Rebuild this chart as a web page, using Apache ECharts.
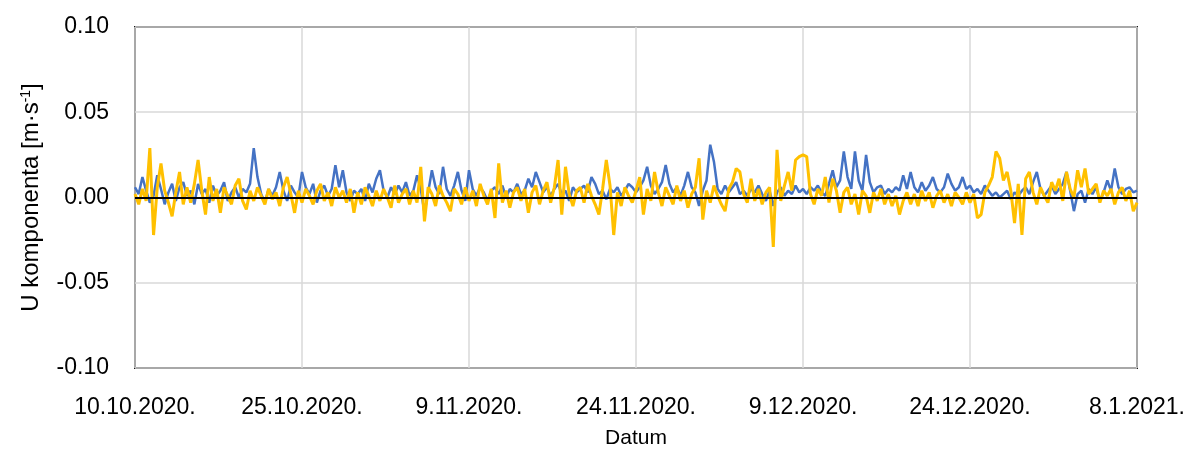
<!DOCTYPE html>
<html>

<head>
	<meta charset="UTF-8">
	<title></title>
	<style>
		body {
			margin: 0;
			background: #fff;
		}
		#chart {
			width: 1197px;
			height: 454px;
		}
	</style>
	<script src="https://cdn.jsdelivr.net/npm/echarts@6/dist/echarts.min.js"></script>
</head>

<body>
	<div id="chart"></div>
	<script>
		// tick labels on the date axis, one every 15 days
		var dateLabels = ['10.10.2020.', '25.10.2020.', '9.11.2020.', '24.11.2020.', '9.12.2020.', '24.12.2020.', '8.1.2021.'];
		// samples every 8 hours from 10.10.2020.
		var stepDays = 1 / 3;

		var blueValues = [
			0.006, 0.002, 0.012, 0.004, -0.003, 0.001, 0.013, 0.005, -0.004, 0.003, 0.008, -0.002, 0.006, 0.009, 0.001,
			0.004, -0.004, 0.008, 0.002, 0.005, -0.003, 0.007, 0.001, 0.004, 0.009, -0.002, 0.003, 0.006, 0.000, 0.005,
			0.003, 0.008, 0.029, 0.012, 0.002, -0.003, 0.005, 0.001, 0.006, 0.015, 0.004, -0.002, 0.007, 0.003, 0.000,
			0.015, 0.006, 0.002, 0.008, -0.003, 0.004, 0.007, 0.001, 0.005, 0.019, 0.006, 0.016, 0.003, -0.002, 0.004,
			0.002, 0.005, -0.002, 0.008, 0.003, 0.011, 0.016, 0.004, 0.000, 0.006, 0.002, 0.007, 0.003, 0.009, 0.001,
			0.004, 0.013, 0.005, -0.009, 0.003, 0.016, 0.006, 0.002, 0.018, 0.005, 0.001, 0.007, 0.015, 0.004, -0.002,
			0.016, 0.005, 0.001, 0.006, 0.003, -0.002, 0.004, 0.006, 0.002, 0.007, 0.000, 0.005, 0.003, 0.008, 0.002,
			0.004, 0.011, 0.006, 0.015, 0.009, 0.003, 0.006, 0.001, 0.005, 0.008, 0.002, 0.004, -0.002, 0.006, 0.003,
			0.005, 0.007, 0.003, 0.012, 0.008, 0.002, 0.004, -0.001, 0.005, 0.003, 0.006, 0.001, 0.004, 0.008, 0.006,
			0.003, 0.006, 0.010, 0.018, 0.007, 0.002, 0.005, 0.009, 0.019, 0.008, 0.003, 0.006, 0.001, 0.007, 0.015,
			0.006, 0.003, -0.005, 0.004, 0.010, 0.031, 0.021, 0.005, 0.002, 0.007, 0.003, 0.006, 0.009, 0.002, 0.004,
			0.001, 0.005, 0.003, 0.007, 0.002, -0.002, 0.004, -0.005, 0.003, 0.006, 0.001, 0.004, 0.002, 0.007, 0.003,
			0.005, 0.002, 0.006, 0.004, 0.007, 0.003, 0.001, 0.008, 0.016, 0.006, 0.010, 0.027, 0.012, 0.005, 0.027,
			0.010, 0.004, 0.025, 0.009, 0.003, 0.006, 0.007, 0.002, 0.005, 0.003, 0.006, 0.004, 0.013, 0.005, 0.015,
			0.006, 0.003, 0.009, 0.004, 0.007, 0.012, 0.005, 0.003, 0.006, 0.014, 0.008, 0.004, 0.006, 0.012, 0.005,
			0.007, 0.003, 0.005, 0.002, 0.007, 0.004, 0.001, 0.003, 0.000, 0.002, 0.004, -0.001, 0.003, 0.001, 0.004,
			0.006, 0.002, 0.009, 0.015, 0.005, 0.001, 0.004, 0.007, 0.002, 0.005, 0.008, 0.015, 0.004, -0.008, 0.002,
			0.004, -0.003, 0.005, 0.002, 0.006, -0.002, 0.003, 0.010, 0.004, 0.017, 0.006, 0.002, 0.005, 0.006, 0.003,
			0.004
		];

		var yellowValues = [
			0.002, -0.004, 0.005, -0.002, 0.029, -0.022, 0.006, 0.020, 0.004, -0.003, -0.011, 0.003, 0.015, -0.004, 0.006,
			-0.003, 0.008, 0.022, 0.004, -0.010, 0.012, -0.002, 0.005, -0.009, 0.006, 0.001, -0.004, 0.007, 0.011, -0.002,
			-0.007, 0.004, -0.002, 0.006, 0.001, -0.004, 0.005, -0.001, 0.003, -0.005, 0.006, 0.012, 0.002, -0.009, 0.004,
			-0.003, 0.005, 0.001, -0.004, 0.004, 0.008, -0.002, 0.003, -0.005, 0.006, 0.000, 0.004, -0.003, 0.005, -0.009,
			0.003, -0.004, 0.006, 0.001, -0.005, 0.004, -0.002, 0.005, 0.000, -0.006, 0.007, -0.003, 0.002, 0.005, -0.004,
			0.004, -0.003, 0.018, -0.014, 0.006, 0.002, -0.005, 0.007, 0.001, -0.003, -0.008, 0.005, 0.002, -0.004, 0.006,
			-0.002, 0.004, -0.005, 0.008, 0.001, -0.004, 0.005, -0.012, 0.020, -0.003, 0.004, -0.006, 0.003, 0.006, -0.002,
			0.005, -0.009, 0.003, 0.007, -0.004, 0.004, 0.009, -0.003, 0.006, 0.022, -0.010, 0.018, 0.002, -0.005, 0.004,
			0.006, -0.003, 0.008, 0.001, -0.004, -0.010, 0.005, 0.022, 0.007, -0.022, 0.003, -0.005, 0.006, 0.001, -0.003,
			0.004, 0.012, -0.010, 0.005, -0.002, 0.015, 0.003, -0.005, 0.006, 0.001, -0.004, 0.007, -0.002, 0.004, -0.006,
			0.002, 0.006, 0.023, -0.013, 0.004, -0.003, 0.007, 0.001, -0.004, -0.008, 0.005, 0.009, 0.017, 0.015, 0.002,
			-0.003, 0.011, -0.002, 0.005, -0.004, 0.003, 0.006, -0.029, 0.028, -0.002, 0.007, 0.015, 0.004, 0.022, 0.024,
			0.025, 0.024, 0.002, -0.004, 0.005, 0.001, 0.012, -0.003, 0.011, 0.004, -0.009, 0.003, 0.006, -0.004, 0.002,
			-0.010, 0.004, 0.001, -0.009, 0.003, -0.002, 0.005, -0.004, 0.002, -0.005, 0.001, -0.010, -0.002, 0.003, -0.004,
			0.002, -0.005, 0.004, -0.002, 0.003, -0.006, 0.001, 0.004, -0.003, 0.002, -0.005, 0.003, 0.000, -0.004, 0.003,
			-0.003, 0.002, -0.012, -0.010, 0.003, 0.007, 0.012, 0.027, 0.023, 0.010, 0.015, 0.004, -0.015, 0.008, -0.022,
			0.011, 0.015, 0.003, -0.004, 0.006, 0.001, -0.003, 0.009, 0.004, 0.011, -0.002, 0.015, 0.005, 0.000, 0.016,
			0.006, 0.017, 0.002, 0.005, 0.008, -0.003, 0.004, 0.001, 0.005, -0.004, 0.003, 0.006, -0.002, 0.004, -0.008,
			-0.003
		];

		function toPoints(values) {
			return values.map(function (v, i) {
				return [i * stepDays, v];
			});
		}

		var font = "'Liberation Sans Narrow', 'Liberation Sans', Arial, sans-serif";

		var myChart = echarts.init(document.getElementById('chart'));
		myChart.setOption({
			animation: false,
			grid: {
				left: 135,
				right: 60,
				top: 27,
				bottom: 86,
				show: true,
				borderColor: '#1a1a1a',
				borderWidth: 2
			},
			xAxis: {
				type: 'value',
				min: 0,
				max: 90,
				interval: 15,
				name: 'Datum',
				nameLocation: 'middle',
				nameGap: 60,
				nameTextStyle: {
					color: '#000',
					fontSize: 21,
					fontFamily: font
				},
				axisLine: { show: false, onZero: false },
				axisTick: { show: false },
				axisLabel: {
					color: '#000',
					fontSize: 23,
					fontFamily: font,
					margin: 28,
					formatter: function (value) {
						return dateLabels[Math.round(value / 15)];
					}
				},
				splitLine: {
					show: true,
					lineStyle: { color: '#d9d9d9', width: 1.5 }
				}
			},
			yAxis: {
				type: 'value',
				min: -0.1,
				max: 0.1,
				interval: 0.05,
				name: 'U komponenta [m·s{sup|-1}]',
				nameLocation: 'middle',
				nameGap: 92,
				nameTextStyle: {
					color: '#000',
					fontSize: 24,
					fontFamily: font,
					rich: {
						sup: {
							fontSize: 14,
							fontFamily: font,
							color: '#000',
							verticalAlign: 'top',
							padding: [0, 0, 10, 0]
						}
					}
				},
				axisLine: { show: false },
				axisTick: { show: false },
				axisLabel: {
					color: '#000',
					fontSize: 23,
					fontFamily: font,
					margin: 26,
					formatter: function (value) {
						return value.toFixed(2);
					}
				},
				splitLine: {
					show: true,
					lineStyle: { color: '#d9d9d9', width: 1.5 }
				}
			},
			series: [
				{
					name: 'blue',
					type: 'line',
					data: toPoints(blueValues),
					showSymbol: false,
					lineStyle: { color: '#4472C4', width: 2.5 },
					itemStyle: { color: '#4472C4' },
					markLine: {
						silent: true,
						symbol: 'none',
						label: { show: false },
						lineStyle: { color: '#000', type: 'solid', width: 2 },
						data: [{ yAxis: 0 }]
					},
					z: 2
				},
				{
					name: 'yellow',
					type: 'line',
					data: toPoints(yellowValues),
					showSymbol: false,
					lineStyle: { color: '#FFC000', width: 3 },
					itemStyle: { color: '#FFC000' },
					z: 3
				}
			]
		});
	</script>
</body>

</html>
